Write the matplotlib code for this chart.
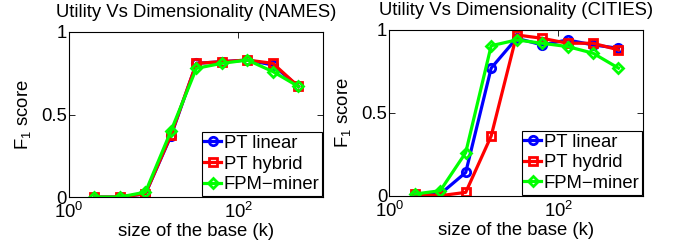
import matplotlib
matplotlib.use("Agg")
import matplotlib.pyplot as plt

plt.rcParams['font.family'] = ['Liberation Sans', 'DejaVu Sans']
plt.rcParams['mathtext.fontset'] = 'custom'
plt.rcParams['mathtext.rm'] = 'Liberation Sans'
plt.rcParams['mathtext.it'] = 'Liberation Sans:italic'
plt.rcParams['mathtext.bf'] = 'Liberation Sans:bold'

base_sizes = [2, 4, 8, 16, 32, 64, 128, 256, 512]

names_pt_linear = [0.0, 0.0, 0.02, 0.37, 0.81, 0.82, 0.83, 0.80, 0.67]
names_pt_hybrid = [0.0, 0.0, 0.02, 0.375, 0.81, 0.82, 0.83, 0.81, 0.67]
names_fpm = [0.0, 0.0, 0.03, 0.40, 0.78, 0.81, 0.83, 0.76, 0.67]

cities_pt_linear = [0.01, 0.01, 0.14, 0.77, 0.95, 0.91, 0.94, 0.91, 0.89]
cities_pt_hybrid = [0.01, 0.0, 0.02, 0.36, 0.97, 0.95, 0.92, 0.92, 0.88]
cities_fpm = [0.01, 0.03, 0.26, 0.905, 0.94, 0.92, 0.90, 0.86, 0.77]

titles = ["Utility Vs Dimensionality (NAMES)", "Utility Vs Dimensionality (CITIES)"]
legend_labels = [["PT linear", "PT hybrid", "FPM\u2212miner"],
                 ["PT linear", "PT hydrid", "FPM\u2212miner"]]
xlabel = "size of the base (k)"
ylabel = r"F$_{\mathrm{1}}$ score"
xticks = [1, 100]
xticklabels = [r"$10^{0}$", r"$10^{2}$"]
yticks = [0, 0.5, 1]
yticklabels = ["0", "0.5", "1"]

fig = plt.figure(figsize=(6.73, 2.46), dpi=100)
axes_pos = [[0.1025, 0.199, 0.3774, 0.671], [0.5785, 0.2045, 0.377, 0.6736]]
data = [(names_pt_linear, names_pt_hybrid, names_fpm),
        (cities_pt_linear, cities_pt_hybrid, cities_fpm)]

fs = 13.3
for i in range(2):
    ax = fig.add_axes(axes_pos[i])
    lin, hyb, fpm = data[i]
    ax.plot(base_sizes, lin, color='#0000ff', marker='o', mfc='none', mec='#0000ff',
            ms=6, mew=2, lw=2.3, label=legend_labels[i][0])
    ax.plot(base_sizes, hyb, color='#ff0000', marker='s', mfc='none', mec='#ff0000',
            ms=5.5, mew=2, lw=2.3, label=legend_labels[i][1])
    ax.plot(base_sizes, fpm, color='#00ff00', marker='D', mfc='none', mec='#00ff00',
            ms=5.5, mew=2, lw=2.3, label=legend_labels[i][2])
    ax.set_xscale('log')
    ax.set_xlim(1, 1000)
    ax.set_ylim(0, 1)
    ax.set_xticks(xticks)
    ax.set_xticklabels(xticklabels)
    ax.minorticks_off()
    ax.set_yticks(yticks)
    ax.set_yticklabels(yticklabels)
    ax.tick_params(direction='in', length=4, width=0.6, top=True, right=True,
                   labelsize=fs)
    ax.tick_params(axis='x', pad=3.5)
    ax.tick_params(axis='y', pad=1.5)
    for s in ax.spines.values():
        s.set_linewidth(0.8)
    ax.set_title(titles[i], fontsize=fs, pad=10.5)
    ax.set_xlabel(xlabel, fontsize=fs, labelpad=1)
    ax.set_ylabel(ylabel, fontsize=fs, labelpad=6)
    leg = ax.legend(loc='lower right', bbox_to_anchor=(0.997, 0.006), fontsize=fs,
                    handlelength=0.9, handletextpad=0.15, labelspacing=0.2,
                    borderpad=0.15, borderaxespad=0, fancybox=False, framealpha=1,
                    edgecolor='black')
    leg.get_frame().set_linewidth(0.8)

fig.savefig("out.png", dpi=100)
